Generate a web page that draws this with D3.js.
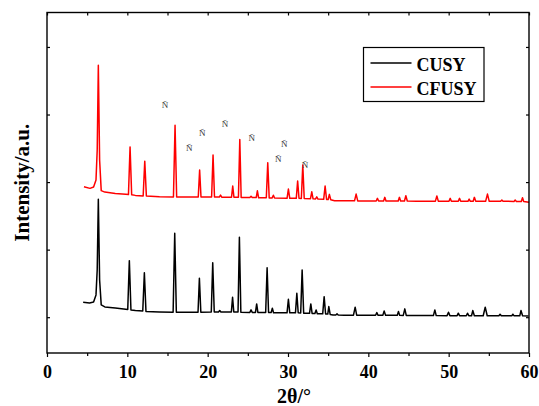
<!DOCTYPE html>
<html>
<head>
<meta charset="utf-8">
<script src="https://cdn.jsdelivr.net/npm/d3@7/dist/d3.min.js"></script>
<style>
  html, body { margin: 0; padding: 0; background: #fff; }
  svg { display: block; }
</style>
</head>
<body>
<div id="chart"></div>
<script>
// XRD patterns, CUSY vs CFUSY. Intensities in arbitrary units, CFUSY offset upward.

const X_MAJOR = [0, 10, 20, 30, 40, 50, 60];
const X_MINOR = [5, 15, 25, 35, 45, 55];
const Y_TICKS = [0, 1000, 2000, 3000, 4000];

// [2θ, intensity]
const CUSY = [
  [4.5,222],[5.3,211],[5.8,226],[6.1,330],[6.25,700],[6.39,1744],[6.55,551],[6.75,182],[7.2,152],[8.5,137],[9.8,118],
  [10.05,115],[10.25,837],[10.45,108],[11.0,100],
  [11.92,93],[12.12,659],[12.32,86],[14.0,78],
  [15.7,74],[15.9,1242],[16.1,74],[17.5,74],
  [18.8,74],[18.97,576],[19.15,74],
  [20.45,76],[20.63,807],[20.82,76],
  [21.35,76],[21.5,98],[21.65,76],
  [22.95,78],[23.1,296],[23.25,78],
  [23.78,78],[23.95,1182],[24.13,74],
  [25.25,71],[25.4,108],[25.55,71],
  [25.95,71],[26.1,197],[26.25,71],
  [27.22,70],[27.4,733],[27.58,68],
  [27.9,68],[28.05,133],[28.2,66],
  [29.88,64],[30.05,266],[30.22,64],
  [30.93,64],[31.1,355],[31.27,66],
  [31.58,62],[31.76,699],[31.95,60],
  [32.68,58],[32.84,197],[33.0,56],
  [33.35,54],[33.5,108],[33.65,52],
  [34.32,50],[34.5,304],[34.68,48],
  [34.95,46],[35.08,157],[35.25,40],
  [35.6,34],[35.95,33],[36.1,49],[36.25,32],
  [37.0,30],[38.15,30],[38.36,148],[38.55,29],
  [39.8,29],[40.9,28],[41.06,68],[41.2,28],
  [41.8,27],[41.97,93],[42.15,27],
  [43.6,27],[43.75,83],[43.9,27],
  [44.35,26],[44.54,123],[44.72,26],
  [46.0,24],[48.1,24],[48.28,108],[48.45,24],
  [49.8,23],[49.98,74],[50.15,23],
  [51.05,23],[51.2,59],[51.35,23],
  [52.2,22],[52.34,59],[52.5,22],
  [52.85,22],[53.0,98],[53.2,22],
  [54.3,21],[54.55,148],[54.8,21],
  [56.25,21],[56.4,44],[56.55,21],
  [57.85,20],[57.99,44],[58.15,20],
  [58.85,20],[59.0,98],[59.2,20],[59.94,19]
];

const CFUSY = [
  [4.6,1930],[5.35,1907],[5.8,1926],[6.1,2029],[6.25,2473],[6.39,3729],[6.55,2325],[6.75,1874],[7.2,1852],[8.5,1830],[9.8,1818],
  [10.14,1815],[10.34,2521],[10.54,1812],[11.0,1803],
  [11.97,1795],[12.17,2310],[12.37,1793],[14.0,1782],
  [15.74,1778],[15.94,2842],[16.14,1778],[17.5,1778],
  [18.83,1778],[19.0,2177],[19.17,1778],
  [20.49,1778],[20.67,2399],[20.85,1778],
  [21.45,1778],[21.6,1808],[21.75,1776],
  [22.97,1776],[23.12,1941],[23.27,1776],
  [23.83,1775],[24.0,2631],[24.17,1773],
  [25.25,1771],[25.4,1790],[25.55,1771],
  [26.04,1770],[26.19,1871],[26.34,1768],
  [27.3,1767],[27.48,2285],[27.66,1766],
  [28.03,1766],[28.18,1805],[28.33,1765],
  [29.88,1760],[30.05,1896],[30.22,1759],
  [31.03,1759],[31.2,2015],[31.37,1760],
  [31.66,1758],[31.84,2251],[32.02,1756],
  [32.8,1755],[32.96,1856],[33.12,1752],
  [33.43,1750],[33.58,1782],[33.73,1748],
  [34.44,1745],[34.62,1941],[34.8,1743],
  [35.0,1742],[35.15,1818],[35.32,1738],
  [35.8,1725],[37.0,1723],[38.28,1722],[38.48,1822],[38.68,1721],
  [39.8,1720],[40.98,1720],[41.13,1759],[41.28,1720],
  [41.9,1720],[42.05,1774],[42.2,1720],
  [43.72,1719],[43.87,1774],[44.02,1719],
  [44.5,1719],[44.67,1797],[44.85,1719],
  [46.0,1718],[48.35,1718],[48.53,1793],[48.71,1718],
  [50.04,1717],[50.19,1759],[50.34,1717],
  [51.2,1717],[51.35,1759],[51.5,1717],
  [52.4,1716],[52.55,1748],[52.7,1716],
  [53.05,1716],[53.2,1774],[53.37,1716],
  [54.6,1715],[54.83,1822],[55.05,1715],
  [56.47,1715],[56.62,1734],[56.77,1715],
  [58.13,1714],[58.28,1734],[58.43,1714],
  [59.04,1714],[59.19,1768],[59.34,1714],[60.0,1700]
];

// peak markers above the CFUSY pattern
const MARK_T = [14.69, 17.71, 19.33, 22.16, 25.48, 28.79, 29.54, 32.11];
const MARK_V = [3138, 2507, 2728, 2853, 2654, 2335, 2557, 2251];

const SERIES = [
  { name: 'CUSY',  color: '#000000', data: CUSY },
  { name: 'CFUSY', color: '#ff0000', data: CFUSY },
];

const W = 539, H = 406;
const m = { left: 47, right: 10, top: 12.5, bottom: 53 };
const FONT = '"Liberation Serif", "Times New Roman", serif';

const x = d3.scaleLinear().domain([0, 60]).range([m.left, W - m.right]);
const y = d3.scaleLinear().domain([-530, 4510]).range([H - m.bottom, m.top]);

const svg = d3.select('#chart').append('svg')
  .attr('width', W).attr('height', H)
  .attr('viewBox', `0 0 ${W} ${H}`);

// traces
const line = d3.line().x(d => x(d[0])).y(d => y(d[1]));
SERIES.forEach(s => {
  svg.append('path')
    .attr('d', line(s.data))
    .attr('fill', 'none')
    .attr('stroke', s.color)
    .attr('stroke-width', 1.5)
    .attr('stroke-linejoin', 'round');
});

// markers (opacity forces greyscale text antialiasing)
svg.append('g').attr('opacity', 0.99).selectAll('text')
  .data(d3.zip(MARK_T, MARK_V))
  .join('text')
  .attr('x', d => x(d[0])).attr('y', d => y(d[1]))
  .attr('text-anchor', 'middle')
  .attr('dominant-baseline', 'central')
  .attr('font-family', FONT)
  .attr('font-size', 9)
  .attr('fill', '#333')
  .text('Ñ');

// axes
const styleAxis = g => {
  g.select('.domain').remove();
  g.selectAll('line').attr('stroke', '#000').attr('stroke-width', 1.2);
};
const bottomY = H - m.bottom;

svg.append('g').attr('transform', `translate(0,${bottomY})`)
  .call(d3.axisBottom(x).tickValues(X_MAJOR).tickSize(4).tickPadding(8))
  .call(styleAxis)
  .call(g => g.selectAll('text')
    .attr('font-family', FONT).attr('font-weight', 'bold')
    .attr('font-size', 18).attr('fill', '#000'));
svg.append('g').attr('transform', `translate(0,${bottomY})`)
  .call(d3.axisBottom(x).tickValues(X_MINOR).tickSize(3).tickFormat(''))
  .call(styleAxis);
svg.append('g').attr('transform', `translate(0,${m.top})`)
  .call(d3.axisTop(x).tickValues(X_MAJOR.concat(X_MINOR)).tickSize(-3).tickFormat(''))
  .call(styleAxis);
svg.append('g').attr('transform', `translate(${m.left},0)`)
  .call(d3.axisLeft(y).tickValues(Y_TICKS).tickSize(-3).tickFormat(''))
  .call(styleAxis);
svg.append('g').attr('transform', `translate(${W - m.right},0)`)
  .call(d3.axisRight(y).tickValues(Y_TICKS).tickSize(-3).tickFormat(''))
  .call(styleAxis);

// frame
svg.append('rect')
  .attr('x', m.left).attr('y', m.top)
  .attr('width', W - m.left - m.right).attr('height', bottomY - m.top)
  .attr('fill', 'none').attr('stroke', '#000').attr('stroke-width', 1.4);

// titles
svg.append('text')
  .attr('x', 294).attr('y', 402.5)
  .attr('text-anchor', 'middle')
  .attr('font-family', FONT).attr('font-weight', 'bold').attr('font-size', 20)
  .text('2θ/°');
svg.append('text')
  .attr('transform', `translate(29,${(m.top + bottomY) / 2}) rotate(-90)`)
  .attr('text-anchor', 'middle')
  .attr('font-family', FONT).attr('font-weight', 'bold').attr('font-size', 21)
  .text('Intensity/a.u.');

// legend
const lg = svg.append('g').attr('transform', 'translate(363.5,47.5)');
lg.append('rect')
  .attr('width', 120.5).attr('height', 54)
  .attr('fill', '#fff').attr('stroke', '#000').attr('stroke-width', 1.2);
SERIES.forEach((s, i) => {
  const ly = 15.5 + i * 24;
  lg.append('line')
    .attr('x1', 7).attr('x2', 48).attr('y1', ly).attr('y2', ly)
    .attr('stroke', s.color).attr('stroke-width', 1.4);
  lg.append('text')
    .attr('x', 53).attr('y', ly + 7.5)
    .attr('font-family', FONT).attr('font-weight', 'bold').attr('font-size', 18)
    .text(s.name);
});
</script>
</body>
</html>
